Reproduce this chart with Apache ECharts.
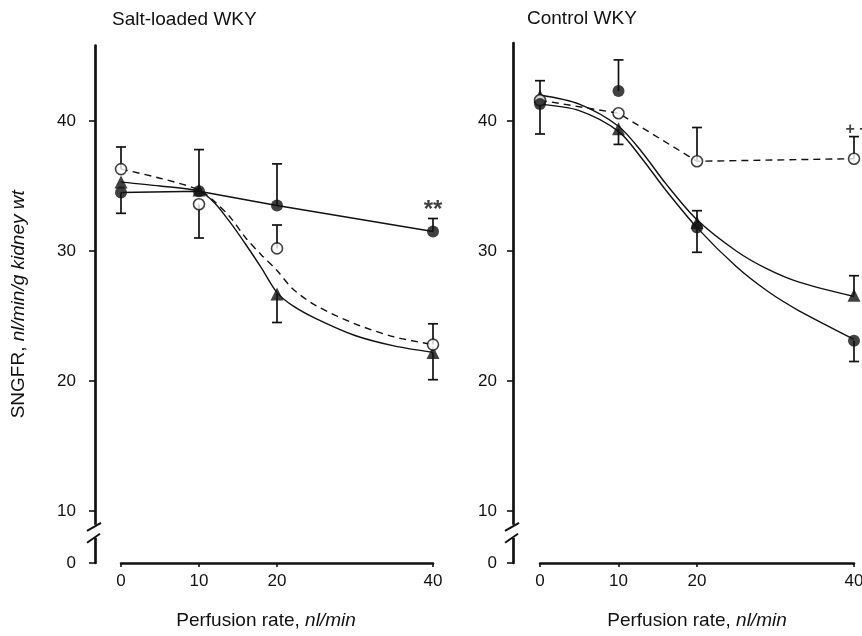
<!DOCTYPE html>
<html>
<head>
<meta charset="utf-8">
<script src="https://cdn.jsdelivr.net/npm/echarts@6/dist/echarts.min.js"></script>
<style>
    html, body { margin: 0; padding: 0; background: #fff; }
    #chart { width: 862px; height: 636px; }
</style>
</head>
<body>
<div id="chart"></div>
<script>
'use strict';

// measured points (perfusion rate, nl/min)
const perfusion = [0, 10, 20, 40];
const xTicks = [0, 10, 20, 40];
// the y axis is broken below 10; its bottom (6) is labelled 0
const yTicks = [6, 10, 20, 30, 40];

// Salt-loaded WKY: means and error-bar ends (null = no bar drawn)
const saltFilled = [34.5, 34.6, 33.5, 31.5];
const saltFilledErr = [32.9, null, 36.7, 32.5];
const saltOpen = [36.3, 33.6, 30.2, 22.8];
const saltOpenErr = [38.0, 31.0, 32.0, 24.4];
const saltTri = [35.3, 34.7, 26.7, 22.2];
const saltTriErr = [null, 37.8, 24.5, 20.1];

// Salt-loaded fitted curves
const saltCurveX = [0, 5, 10, 12, 14, 16, 18, 20, 22, 25, 30, 35, 40];
const saltTriCurve = [35.3, 35.0, 34.6, 33.7, 32.2, 30.5, 28.7, 26.8, 25.8, 24.8, 23.5, 22.7, 22.2];
const saltOpenCurve = [36.3, 35.6, 34.7, 33.8, 32.6, 31.0, 29.7, 28.5, 27.1, 25.8, 24.4, 23.4, 22.8];

// Control WKY
const ctrlFilled = [41.3, 42.3, 31.8, 23.1];
const ctrlFilledErr = [39.0, 44.7, 29.9, 21.5];
const ctrlOpen = [41.6, 40.6, 36.9, 37.1];
const ctrlOpenErr = [null, null, 39.5, 38.8];
const ctrlTri = [41.9, 39.4, 32.2, 26.6];
const ctrlTriErr = [43.1, 38.2, 33.1, 28.1];

const ctrlCurveX = [0, 5, 10, 13, 16, 20, 25, 29, 33, 40];
const ctrlTriCurve = [42.0, 41.3, 39.6, 37.6, 35.2, 32.4, 30.0, 28.6, 27.6, 26.5];
const ctrlFilledCurve = [41.3, 40.8, 39.2, 37.1, 34.7, 31.8, 28.8, 26.9, 25.4, 23.2];

const ink = '#111';
const font = '"Liberation Sans", Arial, sans-serif';

const pts = (xs, ys) => xs.map((x, i) => [x, ys[i]]);
const bars = (xs, ys, ends) =>
    xs.map((x, i) => (ends[i] == null ? null : [x, ys[i], ends[i]])).filter(Boolean);

const errorBar = (params, api) => {
    const p = api.coord([api.value(0), api.value(1)]);
    const e = api.coord([api.value(0), api.value(2)]);
    const w = 5;
    const style = { stroke: ink, lineWidth: 1.7 };
    return {
        type: 'group',
        children: [
            { type: 'line', shape: { x1: p[0], y1: p[1], x2: e[0], y2: e[1] }, style },
            { type: 'line', shape: { x1: e[0] - w, y1: e[1], x2: e[0] + w, y2: e[1] }, style }
        ]
    };
};

const curve = (panel, data, dashed, smooth) => ({
    type: 'line',
    xAxisIndex: panel,
    yAxisIndex: panel,
    data,
    symbol: 'none',
    smooth: smooth ? 0.3 : false,
    clip: false,
    z: 2,
    lineStyle: { color: ink, width: 1.4, type: dashed ? [7, 5] : 'solid' },
    silent: true
});

const errors = (panel, data) => ({
    type: 'custom',
    xAxisIndex: panel,
    yAxisIndex: panel,
    data,
    renderItem: errorBar,
    z: 3,
    silent: true
});

const markers = (panel, data, kind, note) => ({
    type: 'scatter',
    xAxisIndex: panel,
    yAxisIndex: panel,
    clip: false,
    z: 4,
    symbol: kind === 'triangle' ? 'triangle' : 'circle',
    symbolSize: kind === 'triangle' ? 13 : kind === 'open' ? 11 : 12,
    itemStyle: kind === 'open'
        ? { color: '#fff', borderColor: ink, borderWidth: 1.6 }
        : { color: ink },
    data: data.map((d, i) => (note && i === note.index
        ? { value: d, label: Object.assign({ show: true, color: ink, fontFamily: font }, note.label) }
        : d)),
    silent: true
});

const yAxisBase = (grid, offset, max, margin, withName) => ({
    type: 'value',
    gridIndex: grid,
    min: 6,
    max,
    offset,
    axisLine: { show: true, onZero: false, lineStyle: { color: ink, width: 2.7 } },
    axisTick: { show: true, customValues: yTicks, length: 6, lineStyle: { color: ink, width: 1.6 } },
    axisLabel: {
        customValues: yTicks,
        formatter: (v) => (v === 6 ? '0' : String(v)),
        margin,
        fontSize: 17,
        color: ink,
        fontFamily: font
    },
    splitLine: { show: false },
    name: withName ? 'SNGFR, {i|nl/min/g kidney wt}' : '',
    nameLocation: 'middle',
    nameRotate: 90,
    nameGap: 67,
    nameTextStyle: {
        fontSize: 19, color: ink, fontFamily: font,
        rich: { i: { fontStyle: 'italic', fontSize: 19, color: ink, fontFamily: font } }
    }
});

const xAxisBase = (grid, padRight) => ({
    type: 'value',
    gridIndex: grid,
    min: 0,
    max: 40,
    axisLine: { show: true, onZero: false, lineStyle: { color: ink, width: 2.5 } },
    axisTick: { show: true, customValues: xTicks, length: 4, lineStyle: { color: ink, width: 1.6 } },
    axisLabel: { customValues: xTicks, margin: 10, fontSize: 17, color: ink, fontFamily: font },
    splitLine: { show: false },
    name: 'Perfusion rate, {i|nl/min}',
    nameLocation: 'middle',
    nameGap: 48,
    nameTextStyle: {
        fontSize: 19, color: ink, fontFamily: font, padding: [0, padRight, 0, 0],
        rich: { i: { fontStyle: 'italic', fontSize: 19, color: ink, fontFamily: font } }
    }
});

const gridLeft = [121, 540];
const axisOffset = [26, 27];

const options = {
    backgroundColor: '#fff',
    animation: false,
    textStyle: { fontFamily: font },
    title: [
        { text: 'Salt-loaded WKY', left: 107, top: 5, textStyle: { fontSize: 19, fontWeight: 'normal', color: ink, fontFamily: font } },
        { text: 'Control WKY', left: 522, top: 4, textStyle: { fontSize: 19, fontWeight: 'normal', color: ink, fontFamily: font } }
    ],
    grid: [
        { left: gridLeft[0], width: 312, top: 45.6, height: 517.4, outerBoundsMode: 'none', containLabel: false },
        { left: gridLeft[1], width: 314, top: 43, height: 520, outerBoundsMode: 'none', containLabel: false }
    ],
    xAxis: [xAxisBase(0, 22), xAxisBase(1, 0)],
    yAxis: [
        yAxisBase(0, axisOffset[0], 45.8, 19, true),
        yAxisBase(1, axisOffset[1], 46, 16, false)
    ],
    series: [
        // Salt-loaded WKY
        curve(0, pts(perfusion, saltFilled), false, false),
        curve(0, pts(saltCurveX, saltTriCurve), false, true),
        curve(0, pts(saltCurveX, saltOpenCurve), true, true),
        errors(0, bars(perfusion, saltFilled, saltFilledErr)),
        errors(0, bars(perfusion, saltOpen, saltOpenErr)),
        errors(0, bars(perfusion, saltTri, saltTriErr)),
        markers(0, pts(perfusion, saltTri), 'triangle'),
        markers(0, pts(perfusion, saltOpen), 'open'),
        markers(0, pts(perfusion, saltFilled), 'filled', {
            index: 3,
            label: { formatter: '**', position: 'top', distance: 3, fontSize: 24, fontWeight: 'bold' }
        }),
        // Control WKY
        curve(1, pts(ctrlCurveX, ctrlTriCurve), false, true),
        curve(1, pts(ctrlCurveX, ctrlFilledCurve), false, true),
        curve(1, pts(perfusion, ctrlOpen), true, false),
        errors(1, bars(perfusion, ctrlFilled, ctrlFilledErr)),
        errors(1, bars(perfusion, ctrlOpen, ctrlOpenErr)),
        errors(1, bars(perfusion, ctrlTri, ctrlTriErr)),
        markers(1, pts(perfusion, ctrlTri), 'triangle'),
        markers(1, pts(perfusion, ctrlOpen), 'open', {
            index: 3,
            label: { formatter: '+ +', position: 'top', distance: 15, offset: [3, 0], fontSize: 16, fontWeight: 'bold' }
        }),
        markers(1, pts(perfusion, ctrlFilled), 'filled')
    ]
};

const chart = echarts.init(document.getElementById('chart'));
chart.setOption(options);

// "//" break marks on each y axis between 0 and 10
const breakMarks = [];
[0, 1].forEach((i) => {
    const ax = gridLeft[i] - axisOffset[i];
    const yc = chart.convertToPixel({ yAxisIndex: i }, 8.4);
    const line = (x1, y1, x2, y2) => ({
        type: 'line', z: 100, silent: true,
        shape: { x1, y1, x2, y2 },
        style: { stroke: ink, lineWidth: 2 }
    });
    breakMarks.push(
        { type: 'rect', z: 99, silent: true, shape: { x: ax - 4, y: yc - 7, width: 8, height: 13 }, style: { fill: '#fff' } },
        line(ax - 8, yc - 1, ax + 6, yc - 9),
        line(ax - 8, yc + 11, ax + 5, yc + 2)
    );
});
chart.setOption({ graphic: breakMarks });
</script>
</body>
</html>
